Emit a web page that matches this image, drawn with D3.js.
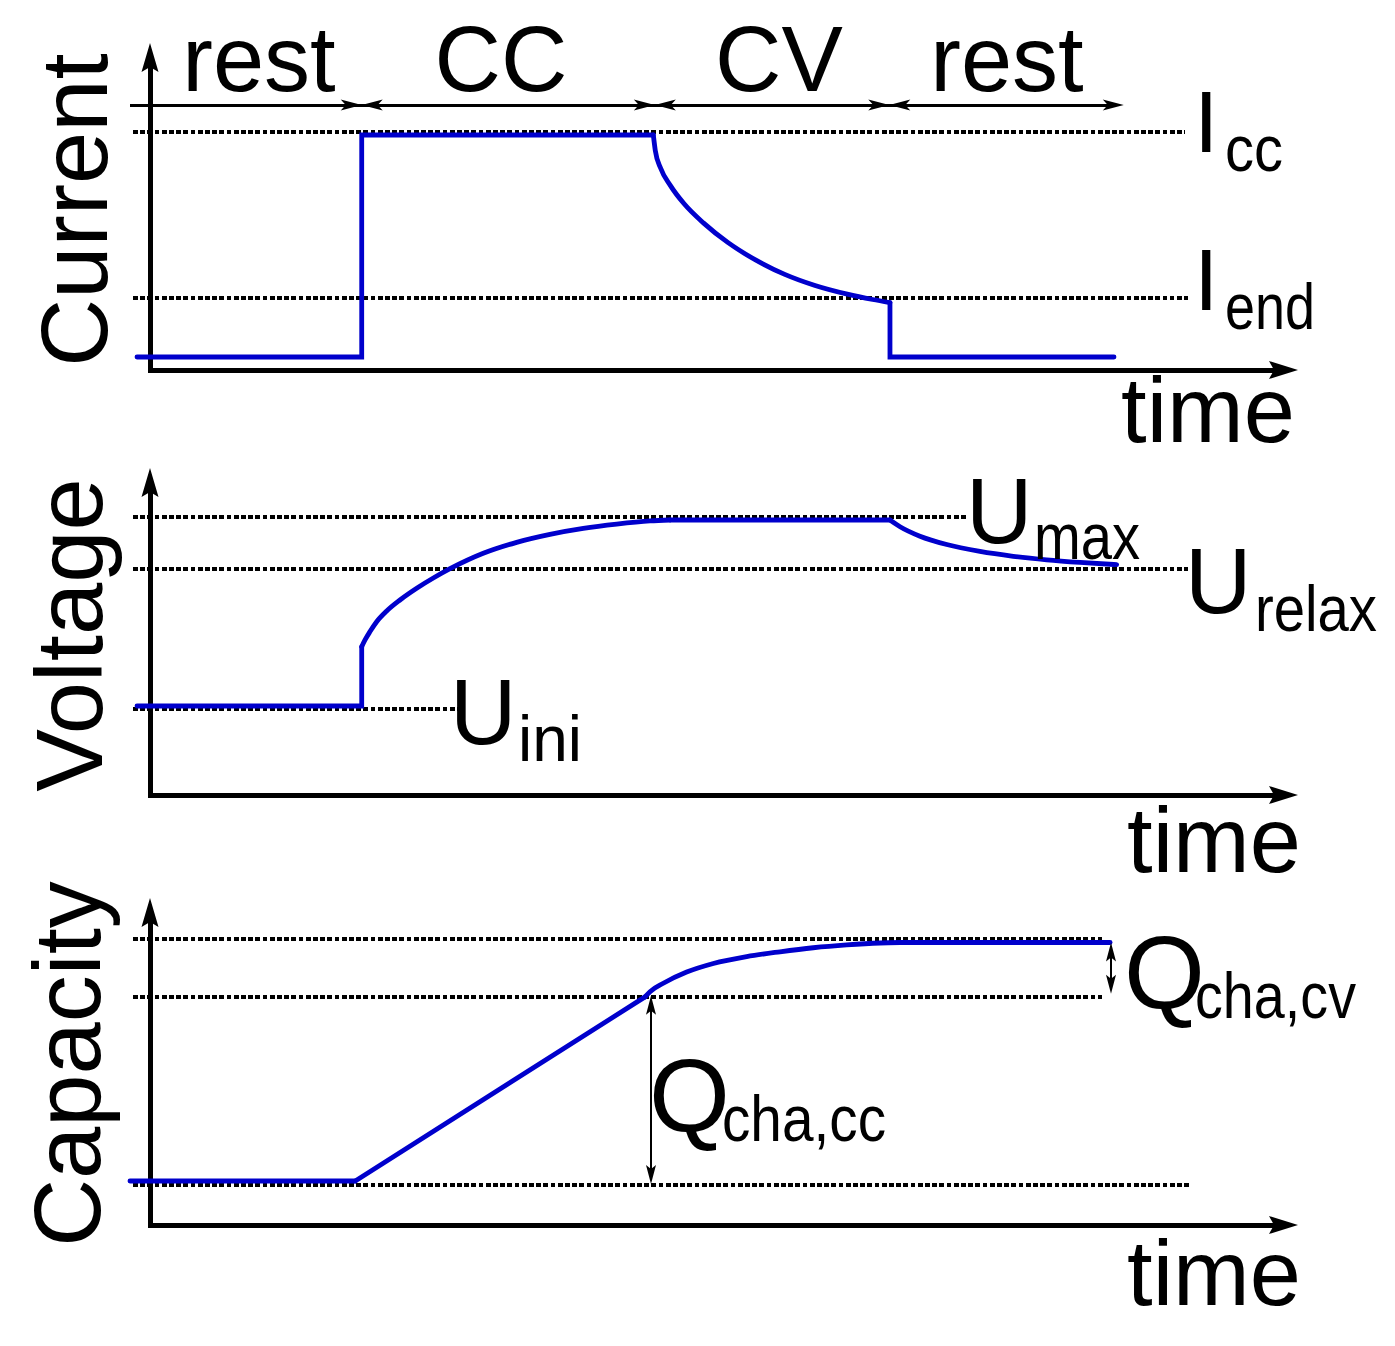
<!DOCTYPE html>
<html>
<head>
<meta charset="utf-8">
<script src="https://cdn.jsdelivr.net/npm/d3@7"></script>
<style>
  html, body { margin: 0; padding: 0; background: #ffffff; }
  svg { display: block; }
</style>
</head>
<body>
<svg id="chart" width="1395" height="1346"></svg>
<script>
// ---------------- DATA ----------------
// phases of the charging protocol (time in arbitrary units)
const phaseLabels = ["rest", "CC", "CV", "rest"];
const phaseBounds = [0, 23, 53, 77, 101];

const axisTitles = ["Current", "Voltage", "Capacity"];
const timeLabel = "time";

// Current (normalised: 0 = rest, 1 = Icc)
const currentStep = [[0, 0], [23, 0], [23, 1], [52.85, 1]];
const currentCV = [[52.85, 1.0], [53.05, 0.93], [53.6, 0.85], [54.6, 0.772], [56.0, 0.69],
                   [58.0, 0.603], [60.5, 0.515], [63.4, 0.435], [66.3, 0.372], [69.4, 0.322],
                   [72.7, 0.283], [75.3, 0.259], [77.07, 0.245]];
const currentTail = [[77.07, 0.245], [77.07, 0], [100, 0]];
const currentRefs = [1.013, 0.265];
const currentRefLabels = [["I", "cc"], ["I", "end"]];

// Voltage (normalised: 0 = Uini, 1 = Umax)
const voltageRest = [[0, 0], [23, 0], [23, 0.319]];
const voltageCC = [[23, 0.319], [23.34, 0.355], [23.85, 0.4], [24.53, 0.453], [25.56, 0.511],
                   [26.92, 0.57], [28.63, 0.633], [30.33, 0.688], [32.04, 0.738], [35.44, 0.821],
                   [38.86, 0.88], [42.27, 0.923], [45.68, 0.955], [49.1, 0.978], [52.51, 0.995],
                   [54.56, 1.0]];
const voltageCV = [[54.56, 1.0], [77.07, 1.0]];
const voltageRelax = [[77.07, 1.0], [78.1, 0.964], [80.14, 0.913], [82.88, 0.868], [86.28, 0.831],
                      [89.69, 0.805], [93.11, 0.786], [96.52, 0.772], [100.27, 0.76]];
const voltageRefs = [1.016, 0.739, -0.016];
const voltageRefLabels = [["U", "max"], ["U", "relax"], ["U", "ini"]];

// Capacity (normalised: 0 = start, 1 = end of charge)
const capacityRest = [[-0.72, 0], [22.34, 0]];
const capacityCC = [[22.34, 0], [52.0, 0.772]];
const capacityCV = [[52.0, 0.772], [52.51, 0.794], [53.87, 0.829], [56.26, 0.876], [58.99, 0.912],
                    [62.41, 0.941], [65.81, 0.961], [69.22, 0.978], [72.64, 0.99], [76.05, 0.998],
                    [78.1, 1.0]];
const capacityEnd = [[78.1, 1.0], [99.6, 1.0]];
const capacityRefs = [1.013, 0.773, -0.017];
const capacityLabels = [["Q", "cha,cc"], ["Q", "cha,cv"]];

// ---------------- DRAWING ----------------
const FONT = "'Liberation Sans', Arial, Helvetica, sans-serif";
const BLUE = "#0000cc";
const svg = d3.select("#chart");

const x = d3.scaleLinear().domain([0, 100]).range([137, 1114]);
const yI = d3.scaleLinear().domain([0, 1]).range([357, 135]);
const yV = d3.scaleLinear().domain([0, 1]).range([706, 520]);
const yQ = d3.scaleLinear().domain([0, 1]).range([1181, 942.5]);

const AX = 150, AX_END = 1298;

function arrowHead(g, tx, ty, dx, dy, len, hw, notch) {
  const px = -dy, py = dx;
  const bx = tx - dx * len, by = ty - dy * len;
  const nx = tx - dx * (len - notch), ny = ty - dy * (len - notch);
  const p = [[tx, ty], [bx + px * hw, by + py * hw], [nx, ny], [bx - px * hw, by - py * hw]];
  g.append("path").attr("d", "M" + p.map(q => q.join(",")).join("L") + "Z").attr("fill", "#000");
}

function drawAxes(g, axisY, tipY) {
  g.append("line").attr("x1", AX).attr("x2", AX).attr("y1", axisY + 2.5).attr("y2", tipY + 20)
    .attr("stroke", "#000").attr("stroke-width", 5).attr("shape-rendering", "crispEdges");
  arrowHead(g, AX, tipY, 0, -1, 29, 8.5, 5);
  g.append("line").attr("x1", AX - 2.5).attr("x2", AX_END - 20).attr("y1", axisY).attr("y2", axisY)
    .attr("stroke", "#000").attr("stroke-width", 5).attr("shape-rendering", "crispEdges");
  arrowHead(g, AX_END, axisY, 1, 0, 29, 9, 5);
}

function dotted(g, y, x1, x2) {
  g.append("line").attr("x1", x1).attr("x2", x2).attr("y1", y).attr("y2", y)
    .attr("stroke", "#000").attr("stroke-width", 4).attr("stroke-dasharray", "4.7,2.5")
    .attr("shape-rendering", "crispEdges");
}

function series(g, y, segs) {
  segs.forEach(s => {
    const line = d3.line().x(d => x(d[0])).y(d => y(d[1]))
      .curve(s.smooth ? d3.curveMonotoneX : d3.curveLinear);
    g.append("path").attr("d", line(s.pts)).attr("fill", "none").attr("stroke", BLUE)
      .attr("stroke-width", 4.8).attr("stroke-linejoin", "miter").attr("stroke-linecap", "round");
  });
}

function txt(g, s, tx, ty, size, opts = {}) {
  const t = g.append("text").attr("x", tx).attr("y", ty).text(s)
    .attr("font-family", FONT).attr("font-size", size).attr("fill", "#000")
    .attr("text-anchor", opts.anchor || "start");
  if (opts.len) t.attr("textLength", opts.len).attr("lengthAdjust", opts.adjust || "spacingAndGlyphs");
  return t;
}

function vtitle(g, s, bx, cy, size) {
  g.append("text").attr("transform", `translate(${bx},${cy}) rotate(-90)`)
    .attr("text-anchor", "middle").attr("font-family", FONT).attr("font-size", size)
    .attr("fill", "#000").text(s);
}

function labelSub(g, pair, mx, my, msize, sx, sy, ssize, slen, adjust) {
  txt(g, pair[0], mx, my, msize);
  txt(g, pair[1], sx, sy, ssize, { len: slen, adjust: adjust });
}

// ---------- Panel 1 : Current ----------
const g1 = svg.append("g");
dotted(g1, yI(currentRefs[0]), 133, 1185);
dotted(g1, yI(currentRefs[1]), 133, 1188);
drawAxes(g1, 370, 43);

const PY = 105;
g1.append("line").attr("x1", 130).attr("x2", x(phaseBounds[4]) - 15).attr("y1", PY).attr("y2", PY)
  .attr("stroke", "#000").attr("stroke-width", 3).attr("shape-rendering", "crispEdges");
phaseBounds.slice(1, 4).forEach(b => {
  arrowHead(g1, x(b), PY, 1, 0, 21, 5.5, 5);
  arrowHead(g1, x(b), PY, -1, 0, 21, 5.5, 5);
});
arrowHead(g1, x(phaseBounds[4]), PY, 1, 0, 21, 5.5, 5);

const phaseCenters = [259, 501, 779, 1007];
phaseLabels.forEach((p, i) => txt(g1, p, phaseCenters[i], 91, 92, { anchor: "middle" }));

series(g1, yI, [{ pts: currentStep }, { pts: currentCV, smooth: true }, { pts: currentTail }]);

vtitle(g1, axisTitles[0], 107, 210, 94);
txt(g1, timeLabel, 1208, 442, 92, { anchor: "middle" });
labelSub(g1, currentRefLabels[0], 1194, 152, 88, 1225, 171, 64, 58);
labelSub(g1, currentRefLabels[1], 1194, 310, 88, 1225, 329, 64, 90);

// ---------- Panel 2 : Voltage ----------
const g2 = svg.append("g");
dotted(g2, yV(voltageRefs[0]), 133, 968);
dotted(g2, yV(voltageRefs[1]), 133, 1188);
dotted(g2, yV(voltageRefs[2]), 133, 458);
drawAxes(g2, 795, 468);
series(g2, yV, [{ pts: voltageRest }, { pts: voltageCC, smooth: true }, { pts: voltageCV },
                { pts: voltageRelax, smooth: true }]);

vtitle(g2, axisTitles[1], 102, 635, 94);
txt(g2, timeLabel, 1214, 872, 92, { anchor: "middle" });
labelSub(g2, voltageRefLabels[0], 966, 543, 92, 1034, 559, 64, 106);
labelSub(g2, voltageRefLabels[1], 1185, 613, 92, 1255, 631, 64, 122);
labelSub(g2, voltageRefLabels[2], 450, 744, 92, 518, 761, 64, 64, "spacing");

// ---------- Panel 3 : Capacity ----------
const g3 = svg.append("g");
dotted(g3, yQ(capacityRefs[0]), 133, 1102);
dotted(g3, yQ(capacityRefs[1]), 133, 1102);
dotted(g3, yQ(capacityRefs[2]), 133, 1190);
drawAxes(g3, 1225, 898);
series(g3, yQ, [{ pts: capacityRest }, { pts: capacityCC }, { pts: capacityCV, smooth: true },
                { pts: capacityEnd }]);

function dblArrow(g, ax, y1, y2) {
  g.append("line").attr("x1", ax).attr("x2", ax).attr("y1", y1 + 10).attr("y2", y2 - 10)
    .attr("stroke", "#000").attr("stroke-width", 2.5).attr("shape-rendering", "crispEdges");
  arrowHead(g, ax, y1, 0, -1, 19, 5, 4);
  arrowHead(g, ax, y2, 0, 1, 19, 5, 4);
}
dblArrow(g3, 651, yQ(capacityRefs[1]) - 1, yQ(capacityRefs[2]) - 1);
dblArrow(g3, 1111, yQ(1.0), yQ(capacityRefs[1]) - 3);

vtitle(g3, axisTitles[2], 100, 1064, 94);
txt(g3, timeLabel, 1214, 1305, 92, { anchor: "middle" });
labelSub(g3, capacityLabels[0], 649, 1131, 104, 722, 1141, 64, 164);
labelSub(g3, capacityLabels[1], 1124, 1008, 104, 1195, 1018, 64, 161);
</script>
</body>
</html>
